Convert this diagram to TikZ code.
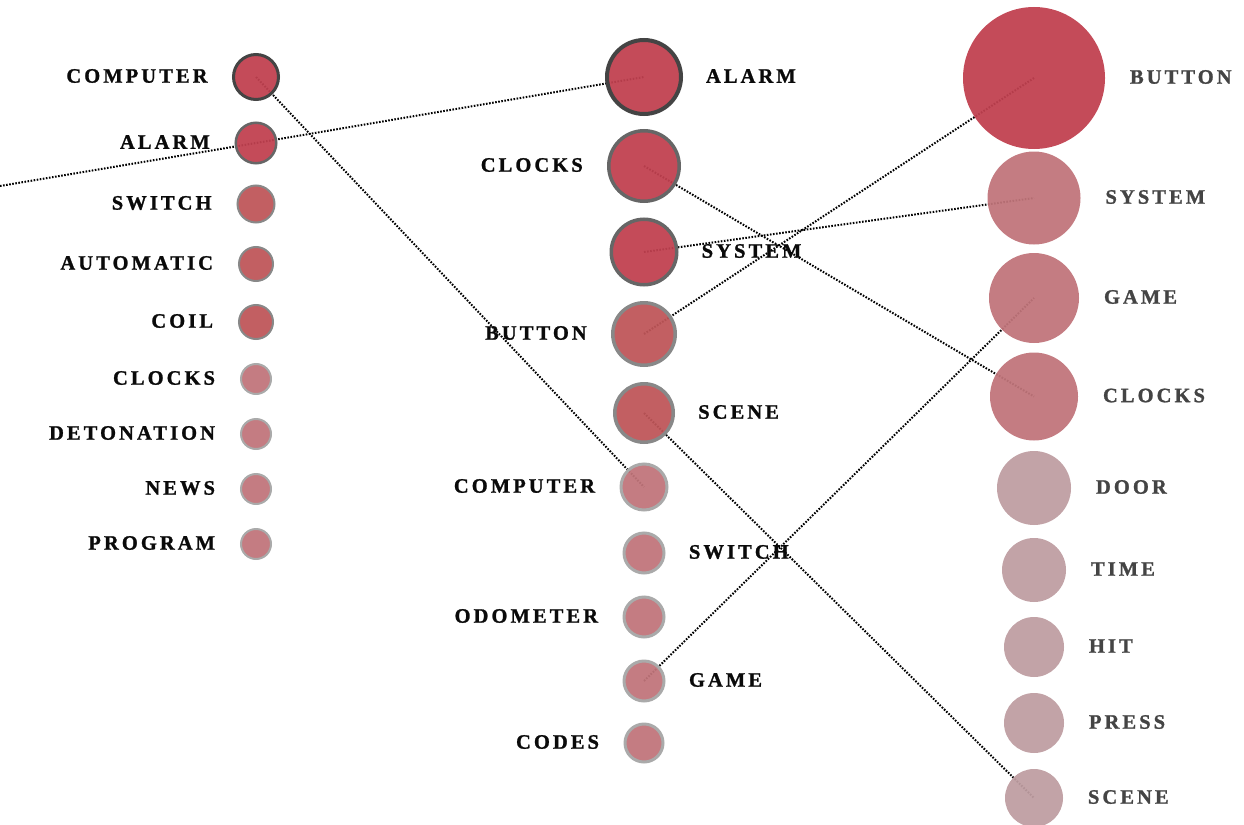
\documentclass[tikz,border=0pt]{standalone}
\usepackage{fontspec}
\newfontfamily\labfont[LetterSpace=15, FakeBold=1.2]{Liberation Serif Bold}
\definecolor{cA}{HTML}{C0404F}
\definecolor{cB}{HTML}{BE5558}
\definecolor{cC}{HTML}{C0747A}
\definecolor{cD}{HTML}{BE9DA1}
\definecolor{kA}{HTML}{444444}
\definecolor{kB}{HTML}{666666}
\definecolor{kC}{HTML}{888888}
\definecolor{kD}{HTML}{AAAAAA}
\definecolor{tdark}{HTML}{0A0A0A}
\definecolor{tgray}{HTML}{444444}
\pgfdeclarelayer{lines}
\pgfsetlayers{lines,main}
\tikzset{
  bub/.style={circle, inner sep=0pt, outer sep=0pt, fill opacity=0.94},
  sA/.style={fill=cA, draw=kA, line width=3pt},
  sB/.style={fill=cA, draw=kB, line width=2.5pt},
  sC/.style={fill=cB, draw=kC, line width=2pt},
  sD/.style={fill=cC, draw=kD, line width=2pt},
  mA/.style={fill=cA, draw=kA, line width=4pt},
  mB/.style={fill=cA, draw=kB, line width=3.5pt},
  mC/.style={fill=cB, draw=kC, line width=3.5pt},
  mD/.style={fill=cC, draw=kD, line width=3pt},
  rA/.style={fill=cA},
  rC/.style={fill=cC},
  rD/.style={fill=cD},
  lab/.style={inner sep=0pt, outer sep=0pt, font=\labfont\fontsize{20.5}{21}\selectfont, text=tdark},
  labg/.style={lab, text=tgray},
  dots/.style={black, line width=2pt, dash pattern=on 1.6pt off 1.5pt},
}
\begin{document}
\begin{tikzpicture}[x=1pt,y=-1pt]
\useasboundingbox (0,0) rectangle (1244,824);
% column 1
\node[bub,sA,minimum size=45pt]   (c1computer)   at (256,77)  {};
\node[bub,sB,minimum size=40.5pt] (c1alarm)      at (256,143) {};
\node[bub,sC,minimum size=37pt]   (c1switch)     at (256,204) {};
\node[bub,sC,minimum size=34pt]   (c1automatic)  at (256,264) {};
\node[bub,sC,minimum size=34pt]   (c1coil)       at (256,322) {};
\node[bub,sD,minimum size=30pt]   (c1clocks)     at (256,379) {};
\node[bub,sD,minimum size=30pt]   (c1detonation) at (256,434) {};
\node[bub,sD,minimum size=30pt]   (c1news)       at (256,489) {};
\node[bub,sD,minimum size=30pt]   (c1program)    at (256,544) {};
\foreach \n/\t in {computer/COMPUTER, alarm/ALARM, switch/SWITCH, automatic/AUTOMATIC, coil/COIL, clocks/CLOCKS, detonation/DETONATION, news/NEWS, program/PROGRAM}
  \node[lab,anchor=east] (t1\n) at ([xshift=-26pt,yshift=1pt]c1\n.west) {\t};
% column 2
\node[bub,mA,minimum size=74pt]   (c2alarm)    at (644,77)  {};
\node[bub,mB,minimum size=70.5pt] (c2clocks)   at (644,166) {};
\node[bub,mB,minimum size=65.5pt] (c2system)   at (644,252) {};
\node[bub,mC,minimum size=62.5pt] (c2button)   at (644,334) {};
\node[bub,mC,minimum size=58.5pt] (c2scene)    at (644,413) {};
\node[bub,mD,minimum size=46pt]   (c2computer) at (644,487) {};
\node[bub,mD,minimum size=40pt]   (c2switch)   at (644,553) {};
\node[bub,mD,minimum size=40pt]   (c2odometer) at (644,617) {};
\node[bub,mD,minimum size=40pt]   (c2game)     at (644,681) {};
\node[bub,mD,minimum size=38pt]   (c2codes)    at (644,743) {};
\foreach \n/\t in {alarm/ALARM, system/SYSTEM, scene/SCENE, switch/SWITCH, game/GAME}
  \node[lab,anchor=west] (t2\n) at ([xshift=25pt,yshift=1pt]c2\n.east) {\t};
\foreach \n/\t in {clocks/CLOCKS, button/BUTTON, computer/COMPUTER, odometer/ODOMETER, codes/CODES}
  \node[lab,anchor=east] (t2\n) at ([xshift=-26pt,yshift=1pt]c2\n.west) {\t};
% column 3
\node[bub,rA,minimum size=142pt] (c3button) at (1034,78)    {};
\node[bub,rC,minimum size=93pt]  (c3system) at (1034,198)   {};
\node[bub,rC,minimum size=90pt]  (c3game)   at (1034,298)   {};
\node[bub,rC,minimum size=88pt]  (c3clocks) at (1034,396.5) {};
\node[bub,rD,minimum size=74pt]  (c3door)   at (1034,488)   {};
\node[bub,rD,minimum size=64pt]  (c3time)   at (1034,570)   {};
\node[bub,rD,minimum size=60pt]  (c3hit)    at (1034,647)   {};
\node[bub,rD,minimum size=60pt]  (c3press)  at (1034,723)   {};
\node[bub,rD,minimum size=58pt]  (c3scene)  at (1034,798)   {};
\foreach \n/\t in {button/BUTTON, system/SYSTEM, game/GAME, clocks/CLOCKS, door/DOOR, time/TIME, hit/HIT, press/PRESS, scene/SCENE}
  \node[labg,anchor=west] (t3\n) at ([xshift=25pt,yshift=1pt]c3\n.east) {\t};
% connectors
\coordinate (leftend) at (0,186);
\begin{pgfonlayer}{lines}
\draw[dots] (c1computer.center) -- (c2computer.center);
\draw[dots] (leftend) -- (c1alarm.center) -- (c2alarm.center);
\draw[dots] (c2clocks.center) -- (c3clocks.center);
\draw[dots] (c2system.center) -- (c3system.center);
\draw[dots] (c2button.center) -- (c3button.center);
\draw[dots] (c2scene.center) -- (c3scene.center);
\draw[dots] (c2game.center) -- (c3game.center);
\end{pgfonlayer}
\end{tikzpicture}
\end{document}
